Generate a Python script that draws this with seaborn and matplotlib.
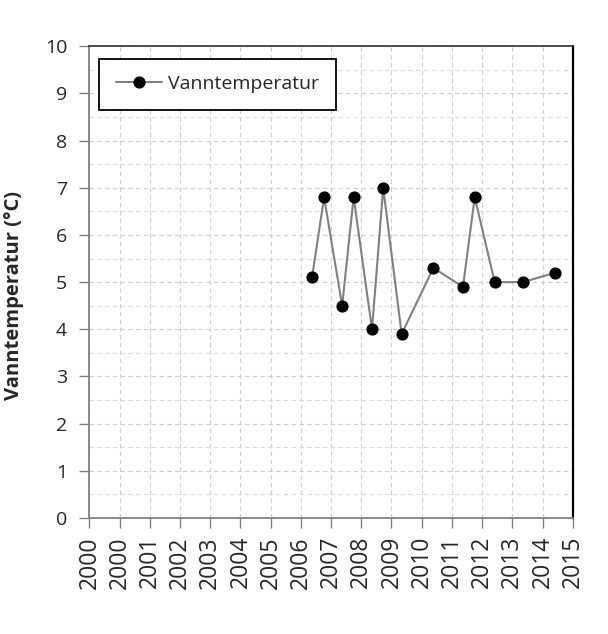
import matplotlib
matplotlib.use("Agg")
import matplotlib.pyplot as plt
import matplotlib.dates as mdates
from matplotlib.ticker import FixedLocator, MultipleLocator
import pandas as pd
import seaborn as sns

# Data
sample_dates = ["2007-05-14", "2007-10-07", "2008-05-12", "2008-09-28", "2009-05-08",
                "2009-09-20", "2010-05-01", "2011-05-19", "2012-05-11", "2012-09-30",
                "2013-05-29", "2014-05-07", "2015-05-29"]
water_temp = [5.1, 6.8, 4.5, 6.8, 4.0, 7.0, 3.9, 5.3, 4.9, 6.8, 5.0, 5.0, 5.2]
series_name = "Vanntemperatur"
y_label = "Vanntemperatur (°C)"
axis_start = "2000-01-01"
n_xticks = 17
y_ticks = list(range(0, 11))

df = pd.DataFrame({"date": pd.to_datetime(sample_dates), series_name: water_temp})

sns.set_theme(style="white")
plt.rcParams["font.family"] = ["Open Sans", "DejaVu Sans"]

fig = plt.figure(figsize=(6.08, 6.34), dpi=100)
ax = fig.add_axes([0.147, 0.183, 0.795, 0.744])

sns.lineplot(data=df, x="date", y=series_name, ax=ax, color="#808080", linewidth=1.5,
             marker="o", markersize=8, markerfacecolor="black", markeredgecolor="black",
             label=series_name)

xticks = pd.date_range(axis_start, periods=n_xticks, freq="365D")
ax.set_xlim(mdates.date2num(xticks[0]), mdates.date2num(xticks[-1]))
ax.xaxis.set_major_locator(FixedLocator(mdates.date2num(xticks)))
ax.xaxis.set_major_formatter(mdates.DateFormatter("%Y"))
ax.set_ylim(0, 10)
ax.set_yticks(y_ticks)
ax.yaxis.set_minor_locator(MultipleLocator(0.5))

ax.grid(True, which="major", axis="both", color="#cfcfcf", linestyle=(0, (4, 3)), linewidth=0.8)
ax.grid(True, which="minor", axis="y", color="#dcdcdc", linestyle=(0, (4, 3)), linewidth=0.8)
ax.set_axisbelow(True)

ax.tick_params(axis="x", labelrotation=90, labelsize=16.5, length=7, width=1, color="#808080",
               direction="out", bottom=True, pad=6)
ax.tick_params(axis="y", labelsize=14, length=7, width=1, color="#808080",
               direction="out", left=True, pad=9)
ax.tick_params(which="minor", length=0)

for side in ["left", "bottom"]:
    ax.spines[side].set_color("#808080")
    ax.spines[side].set_linewidth(1.3)
ax.spines["top"].set_color("#404040")
ax.spines["top"].set_linewidth(1.3)
ax.spines["right"].set_color("black")
ax.spines["right"].set_linewidth(1.6)

ax.set_xlabel("")
ax.set_ylabel(y_label, fontsize=14.5, fontweight="bold")
ax.yaxis.set_label_coords(-0.135, 0.471)

leg = ax.legend(loc="upper left", bbox_to_anchor=(0.02, 0.974), fontsize=14, frameon=True,
                fancybox=False, edgecolor="black", framealpha=1, borderpad=0.85,
                borderaxespad=0.0, handlelength=2.4, handletextpad=0.3)
leg.get_frame().set_linewidth(1.3)

fig.savefig("out.png", dpi=100, facecolor="white")
